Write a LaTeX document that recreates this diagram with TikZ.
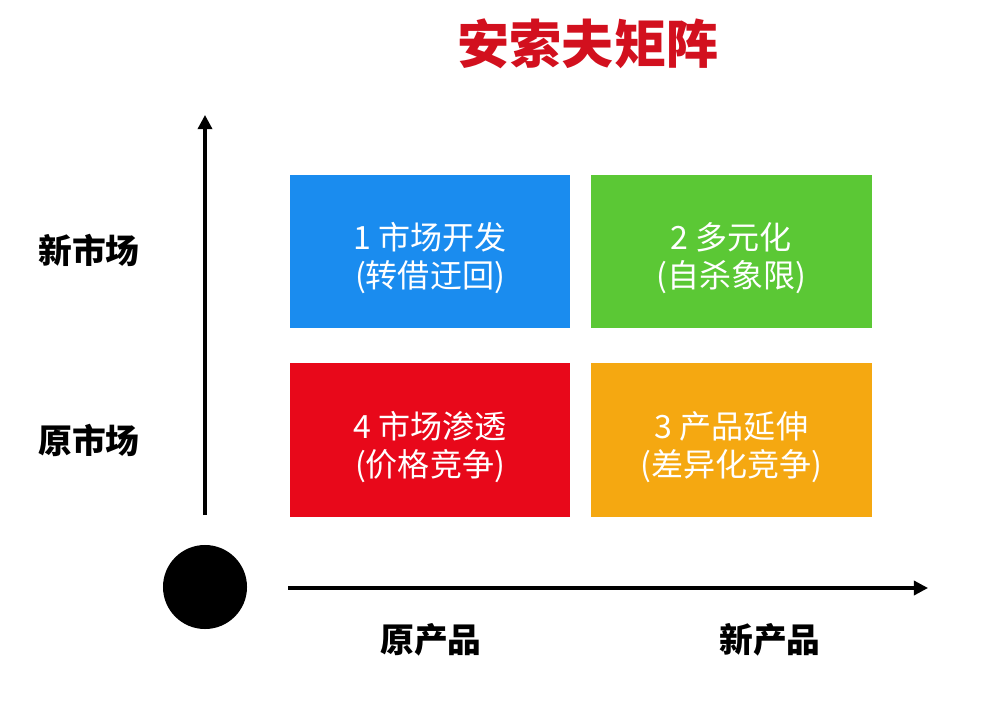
\documentclass[tikz,border=0pt]{standalone}
\usepackage{fontspec}
\setmainfont{Noto Sans CJK SC}
\usetikzlibrary{arrows.meta}
\definecolor{ansoffblue}{HTML}{1A8CEF}
\definecolor{ansoffgreen}{HTML}{5BC835}
\definecolor{ansoffred}{HTML}{E8081A}
\definecolor{ansofforange}{HTML}{F5A811}
\definecolor{titlered}{HTML}{D2101E}
\newcommand{\cellstrut}{\rule{0pt}{29pt}}
\begin{document}
\begin{tikzpicture}[x=0.025cm, y=-0.025cm,
        cell/.style={minimum width=7cm, minimum height=3.825cm, inner sep=0pt, text=white, align=center, font=\fontsize{22.8}{27}\selectfont},
        axisline/.style={line width=2.3pt, -{Triangle[length=10pt, width=10pt]}},
        axislabel/.style={font=\fontsize{24}{28}\selectfont\bfseries}]
        \useasboundingbox (0,0) rectangle (1000,705);
        \node[text=titlered, font=\fontsize{37}{40}\selectfont\bfseries] at (588, 44) (title) {安索夫矩阵};
        \node[cell, fill=ansoffblue]   at (430.0, 251.5) (c1) {\cellstrut 1 市场开发\\(转借迂回)};
        \node[cell, fill=ansoffgreen]  at (731.5, 251.5) (c2) {\cellstrut 2 多元化\\(自杀象限)};
        \node[cell, fill=ansofforange] at (731.5, 440.0) (c3) {\cellstrut 3 产品延伸\\(差异化竞争)};
        \node[cell, fill=ansoffred]    at (430.0, 440.0) (c4) {\cellstrut 4 市场渗透\\(价格竞争)};
        \node[circle, fill=black, minimum size=2.1cm, inner sep=0pt] at (205, 587) (o) {};
        \coordinate (ybot) at (205, 515);
        \coordinate (ytop) at (205, 115);
        \coordinate (xleft) at (288, 588);
        \coordinate (xright) at (928, 588);
        \draw[axisline] (ybot) -- (ytop);
        \draw[axisline] (xleft) -- (xright);
        \node[axislabel] at (89, 250) (newmkt) {新市场};
        \node[axislabel] at (89, 440) (oldmkt) {原市场};
        \node[axislabel] at (431, 640) (oldprod) {原产品};
        \node[axislabel] at (770, 640) (newprod) {新产品};
    \end{tikzpicture}
\end{document}
